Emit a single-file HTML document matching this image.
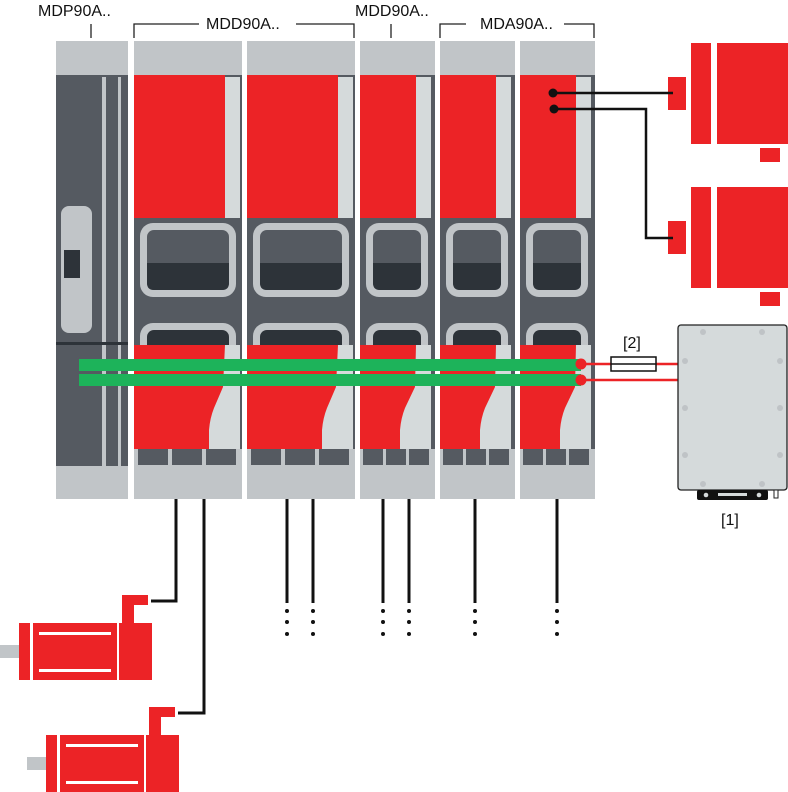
<!DOCTYPE html>
<html><head><meta charset="utf-8"><style>
html,body{margin:0;padding:0;background:#fff;}
svg{display:block;}
text{font-family:"Liberation Sans",Arial,sans-serif;fill:#111;}
</style></head><body>
<svg width="788" height="792" viewBox="0 0 788 792" xmlns="http://www.w3.org/2000/svg">
<defs>
<g id="wide">
  <rect x="0" y="41" width="108" height="34" fill="#c1c5c8"/>
  <rect x="0" y="75" width="108" height="391" fill="#555a61"/>
  <rect x="0" y="75" width="91" height="143" fill="#ec2326"/>
  <rect x="91" y="77" width="15" height="141" fill="#d5dadb"/>
  <rect x="6" y="223" width="96" height="74" rx="13" fill="#c1c5c8"/>
  <rect x="13" y="230" width="82" height="60" rx="7" fill="#555a61"/>
  <path d="M13,263 H95 V283 Q95,290 88,290 H20 Q13,290 13,283 Z" fill="#2d3339"/>
  <rect x="6" y="323" width="96" height="40" rx="13" fill="#c1c5c8"/>
  <rect x="13" y="330" width="82" height="30" rx="7" fill="#2d3339"/>
  <rect x="0" y="345" width="106" height="104" fill="#ec2326"/>
  <path d="M91,345 H106 V449 H75 V430 Q76,418 80,408 L89,387 Z" fill="#d5dadb"/>
  <rect x="0" y="449" width="108" height="17" fill="#c1c5c8"/>
  <rect x="4" y="449" width="30" height="16" fill="#555a61"/>
  <rect x="38" y="449" width="30" height="16" fill="#555a61"/>
  <rect x="72" y="449" width="30" height="16" fill="#555a61"/>
  <rect x="0" y="466" width="108" height="33" fill="#c1c5c8"/>
</g>
<g id="narrow">
  <rect x="0" y="41" width="75" height="34" fill="#c1c5c8"/>
  <rect x="0" y="75" width="75" height="391" fill="#555a61"/>
  <rect x="0" y="75" width="56" height="143" fill="#ec2326"/>
  <rect x="56" y="77" width="15" height="141" fill="#d5dadb"/>
  <rect x="6" y="223" width="62" height="74" rx="13" fill="#c1c5c8"/>
  <rect x="13" y="230" width="48" height="60" rx="7" fill="#555a61"/>
  <path d="M13,263 H61 V283 Q61,290 54,290 H20 Q13,290 13,283 Z" fill="#2d3339"/>
  <rect x="6" y="323" width="62" height="40" rx="13" fill="#c1c5c8"/>
  <rect x="13" y="330" width="48" height="30" rx="7" fill="#2d3339"/>
  <rect x="0" y="345" width="71" height="104" fill="#ec2326"/>
  <path d="M56,345 H71 V449 H40 V430 Q41,418 45,408 L55,387 Z" fill="#d5dadb"/>
  <rect x="0" y="449" width="75" height="17" fill="#c1c5c8"/>
  <rect x="3" y="449" width="20" height="16" fill="#555a61"/>
  <rect x="26" y="449" width="20" height="16" fill="#555a61"/>
  <rect x="49" y="449" width="20" height="16" fill="#555a61"/>
  <rect x="0" y="466" width="75" height="33" fill="#c1c5c8"/>
</g>
<g id="motor">
  <rect x="0" y="22" width="19" height="13" fill="#c1c5c8"/>
  <rect x="19" y="0" width="11" height="57" fill="#ec2326"/>
  <rect x="33" y="0" width="84" height="57" fill="#ec2326"/>
  <rect x="119" y="0" width="33" height="57" fill="#ec2326"/>
  <rect x="39" y="9" width="72" height="3" fill="#fff"/>
  <rect x="39" y="46" width="72" height="3" fill="#fff"/>
  <path d="M122,-28 H148 V-18 H134 V0 H122 Z" fill="#ec2326"/>
</g>
<g id="rmotor">
  <rect x="668" y="77" width="18" height="33" fill="#ec2326"/>
  <rect x="691" y="43" width="20" height="101" fill="#ec2326"/>
  <rect x="717" y="43" width="71" height="101" fill="#ec2326"/>
  <rect x="760" y="148" width="20" height="14" fill="#ec2326"/>
</g>
</defs>

<!-- labels -->
<text x="38" y="16" font-size="16">MDP90A..</text>
<text x="206" y="29" font-size="16">MDD90A..</text>
<text x="355" y="16" font-size="16">MDD90A..</text>
<text x="480" y="29" font-size="16">MDA90A..</text>
<g stroke="#222" stroke-width="1.3" fill="none">
  <path d="M91,24 V38"/>
  <path d="M134,38 V24 H199 M296,24 H354 V38"/>
  <path d="M391,24 V38"/>
  <path d="M440,38 V24 H466 M564,24 H594 V38"/>
</g>

<!-- MDP -->
<rect x="56" y="41" width="72" height="34" fill="#c1c5c8"/>
<rect x="56" y="75" width="72" height="391" fill="#555a61"/>
<rect x="102" y="77" width="4" height="389" fill="#c1c5c8"/>
<rect x="118" y="77" width="3" height="389" fill="#c1c5c8"/>
<rect x="61" y="206" width="31" height="127" rx="8" fill="#c1c5c8"/>
<rect x="64" y="250" width="16" height="28" fill="#2d3339"/>
<rect x="56" y="342" width="72" height="3" fill="#2d3339"/>
<rect x="56" y="466" width="72" height="33" fill="#c1c5c8"/>

<use href="#wide" x="134"/>
<use href="#wide" x="247"/>
<use href="#narrow" x="360"/>
<use href="#narrow" x="440"/>
<use href="#narrow" x="520"/>

<!-- green bars -->
<rect x="79" y="359" width="502" height="12" fill="#1db35a"/>
<rect x="79" y="374" width="502" height="12" fill="#1db35a"/>
<g stroke="#ec2326" stroke-width="2.5">
  <path d="M581,364 H680 M581,380 H680"/>
</g>
<circle cx="581" cy="364" r="5.5" fill="#ec2326"/>
<circle cx="581" cy="380" r="5.5" fill="#ec2326"/>
<rect x="611" y="357" width="45" height="14" fill="#fff" stroke="#111" stroke-width="1.5"/>
<line x1="611" y1="364" x2="656" y2="364" stroke="#111" stroke-width="1.5"/>
<text x="623" y="348" font-size="16">[2]</text>

<!-- braking resistor box -->
<rect x="678" y="325" width="109" height="165" rx="3" fill="#d5dadb" stroke="#222" stroke-width="1.3"/>
<g fill="#bfc3c6">
  <circle cx="703" cy="332" r="3"/><circle cx="762" cy="332" r="3"/>
  <circle cx="685" cy="361" r="3"/><circle cx="780" cy="361" r="3"/>
  <circle cx="685" cy="408" r="3"/><circle cx="780" cy="408" r="3"/>
  <circle cx="685" cy="455" r="3"/><circle cx="780" cy="455" r="3"/>
  <circle cx="703" cy="484" r="3"/><circle cx="762" cy="484" r="3"/>
</g>
<rect x="697" y="490" width="71" height="10" rx="2" fill="#111"/>
<circle cx="706" cy="495" r="2.3" fill="#d5dadb"/>
<circle cx="759" cy="495" r="2.3" fill="#d5dadb"/>
<rect x="718" y="493" width="29" height="3" fill="#d5dadb"/>
<rect x="774" y="490" width="4" height="8" fill="#fff" stroke="#222" stroke-width="1"/>
<text x="721" y="525" font-size="16">[1]</text>

<!-- right motors -->
<use href="#rmotor"/>
<use href="#rmotor" y="144"/>
<g stroke="#111" stroke-width="2.5" fill="none">
  <path d="M553,93 H673"/>
  <path d="M554,109 H646 V238 H673"/>
</g>
<circle cx="553" cy="93" r="4.5" fill="#111"/>
<circle cx="554" cy="109" r="4.5" fill="#111"/>

<!-- bottom wires -->
<g stroke="#111" stroke-width="3" fill="none">
  <path d="M176,499 V601 H151"/>
  <path d="M204,499 V713 H178"/>
  <path d="M287,499 V603 M313,499 V603 M383,499 V603 M409,499 V603 M475,499 V603 M557,499 V603"/>
</g>
<g fill="#111">
  <circle cx="287" cy="611" r="2"/><circle cx="287" cy="622" r="2"/><circle cx="287" cy="634" r="2"/>
  <circle cx="313" cy="611" r="2"/><circle cx="313" cy="622" r="2"/><circle cx="313" cy="634" r="2"/>
  <circle cx="383" cy="611" r="2"/><circle cx="383" cy="622" r="2"/><circle cx="383" cy="634" r="2"/>
  <circle cx="409" cy="611" r="2"/><circle cx="409" cy="622" r="2"/><circle cx="409" cy="634" r="2"/>
  <circle cx="475" cy="611" r="2"/><circle cx="475" cy="622" r="2"/><circle cx="475" cy="634" r="2"/>
  <circle cx="557" cy="611" r="2"/><circle cx="557" cy="622" r="2"/><circle cx="557" cy="634" r="2"/>
</g>

<!-- bottom motors -->
<use href="#motor" x="0" y="623"/>
<use href="#motor" x="27" y="735"/>
</svg>
</body></html>
